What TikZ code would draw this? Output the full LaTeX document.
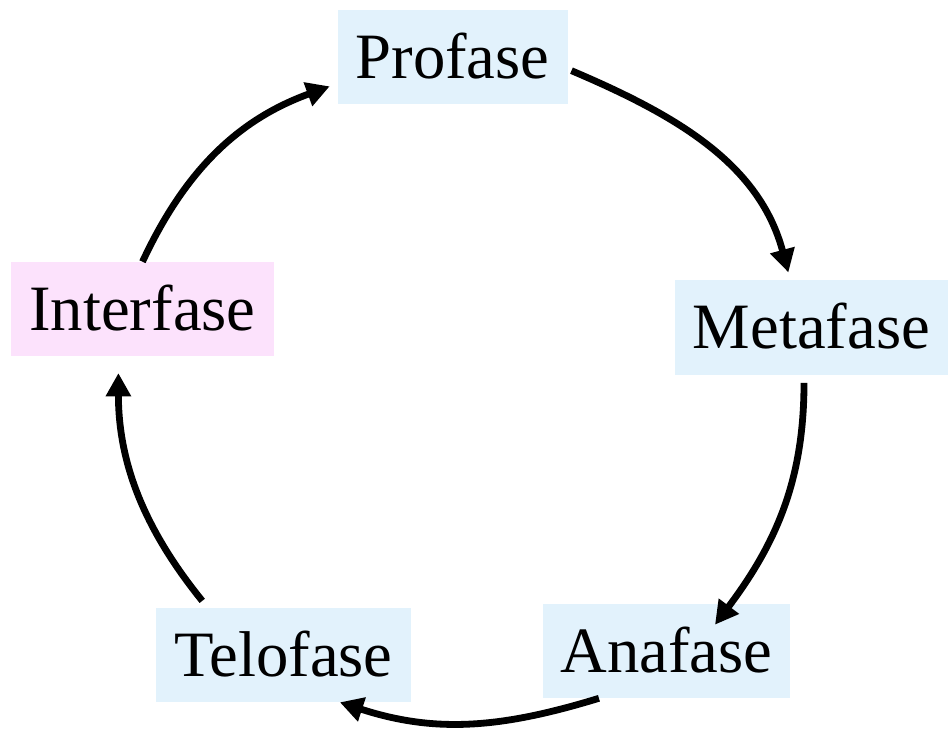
\documentclass[tikz,border=0pt]{standalone}
\usepackage{fontspec}
\setmainfont{Liberation Serif}
\usepackage{xcolor}
\usetikzlibrary{arrows.meta,calc}
\definecolor{phaseblue}{RGB}{226,242,252}
\definecolor{phasepink}{RGB}{252,226,252}
\tikzset{
    phasebox/.style={fill=phaseblue, inner xsep=0.45cm, minimum height=2.35cm, text height=30.4pt, text depth=0pt, font=\fontsize{46}{55}\selectfont},
    phaseinter/.style={phasebox, fill=phasepink},
    cyclearrow/.style={draw, line width=0.17cm, -{Triangle[length=0.58cm, width=0.6cm]}}
}

\begin{document}
\begin{tikzpicture}[x=0.025cm, y=0.025cm]
    \useasboundingbox (0,0) rectangle (948,736);
    \node[phasebox] (pro) at (452.5,679) {Profase};
    \node[phasebox] (meta) at (811.5,408.5) {Metafase};
    \node[phasebox] (ana) at (666.5,85) {Anafase};
    \node[phasebox] (telo) at (283.5,81) {Telofase};
    \node[phaseinter] (inter) at (142.5,427) {Interfase};

    \draw[cyclearrow, shorten >=0.2cm] (inter.north) to[out=65, in=200] (pro.193);
    \draw[cyclearrow, shorten <=0.1cm, shorten >=0.2cm] (pro.354) to[out=-23, in=105] (meta.114);
    \draw[cyclearrow, shorten <=0.2cm] (meta.261) to[out=-90, in=53] ($(ana.north)+(48.5,-21)$);
    \draw[cyclearrow] (ana.215) to[out=197, in=-18] (telo.320);
    \draw[cyclearrow, shorten <=0.22cm, shorten >=0.42cm] (telo.148) to[out=129, in=-90] (inter.243);
\end{tikzpicture}
\end{document}
